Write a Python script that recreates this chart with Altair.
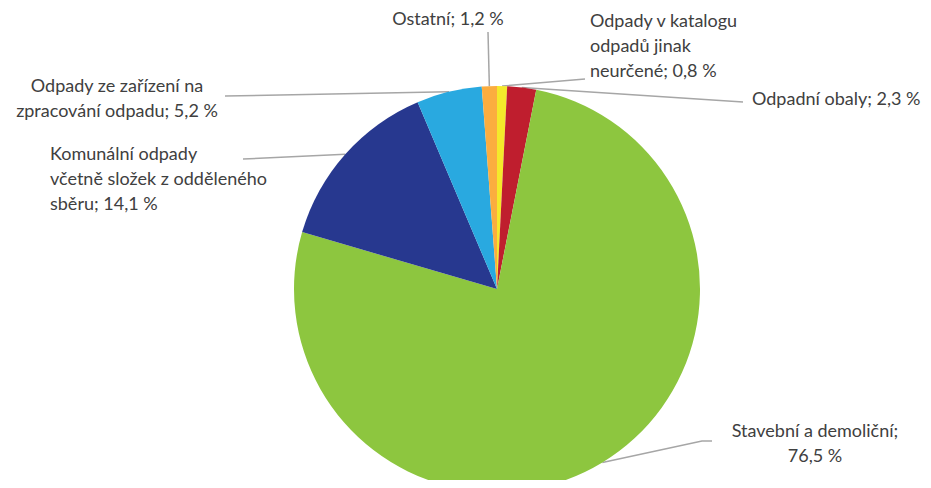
import altair as alt
import pandas as pd
import numpy as np

# ---- data ----
categories = [
    "Odpady v katalogu odpadů jinak neurčené",
    "Odpadní obaly",
    "Stavební a demoliční",
    "Komunální odpady včetně složek z odděleného sběru",
    "Odpady ze zařízení na zpracování odpadu",
    "Ostatní",
]
values = [0.8, 2.3, 76.5, 14.1, 5.2, 1.2]
label_texts = [
    "Odpady v katalogu\nodpadů jinak\nneurčené; 0,8 %",
    "Odpadní obaly; 2,3 %",
    "Stavební a demoliční;\n76,5 %",
    "Komunální odpady\nvčetně složek z odděleného\nsběru; 14,1 %",
    "Odpady ze zařízení na\nzpracování odpadu; 5,2 %",
    "Ostatní; 1,2 %",
]
colors = ["#F4E92B", "#BF1E2E", "#8DC63F", "#27388F", "#29A9E0", "#FBAD3F"]

# ---- layout (chart pixel coordinates) ----
W, H = 915, 472
CX, CY, R = 489, 281, 203
label_x = [582, 744, 807, 42, 109, 440]
label_y = [14, 92, 424, 147, 79, 12]
label_align = ["left", "left", "center", "left", "center", "center"]
# leader line end points (elbow point optional)
leader_pts = [
    [(577, 71)],
    [(735, 94)],
    [(694, 433), (704, 433)],
    [(235, 151)],
    [(217, 88)],
    [(480, 24)],
]

df = pd.DataFrame({"cat": categories, "value": values, "idx": range(len(values))})

# leader lines: start at slice edge at mid angle
total = sum(values)
cum = np.cumsum([0] + values[:-1])
rows = []
for i, (c, v) in enumerate(zip(categories, values)):
    mid = (cum[i] + v / 2) / total * 2 * np.pi
    sx = CX + R * np.sin(mid)
    sy = CY - R * np.cos(mid)
    pts = [(sx, sy)] + leader_pts[i]
    for k, (px, py) in enumerate(pts):
        rows.append({"cat": c, "k": k, "px": px, "py": py})
lines_df = pd.DataFrame(rows)

labels_df = pd.DataFrame({"text": label_texts, "lx": label_x, "ly": label_y, "al": label_align})

xs = alt.Scale(domain=[0, W], nice=False, zero=False)
ys = alt.Scale(domain=[0, H], nice=False, zero=False, reverse=True)

pie = alt.Chart(df).mark_arc(outerRadius=R).encode(
    theta=alt.Theta("value:Q", stack=True),
    color=alt.Color("cat:N", scale=alt.Scale(domain=categories, range=colors), legend=None),
    order=alt.Order("idx:Q"),
    x=alt.value(CX),
    y=alt.value(CY),
)

leaders = alt.Chart(lines_df).mark_line(color="#A6A6A6", strokeWidth=1.5).encode(
    x=alt.X("px:Q", scale=xs, axis=None),
    y=alt.Y("py:Q", scale=ys, axis=None),
    detail="cat:N",
    order="k:Q",
)

text_layers = []
for al in ["left", "center"]:
    sub = labels_df[labels_df["al"] == al]
    text_layers.append(
        alt.Chart(sub).mark_text(
            align=al, baseline="middle", lineBreak="\n", lineHeight=25,
            font="Lato", fontSize=18, color="#404040",
        ).encode(
            x=alt.X("lx:Q", scale=xs, axis=None),
            y=alt.Y("ly:Q", scale=ys, axis=None),
            text="text:N",
        )
    )

chart = alt.layer(leaders, pie, *text_layers).properties(
    width=W, height=H, autosize="none", padding=0
).configure_view(stroke=None)

chart.save("out.html", embed_options={"renderer": "svg", "actions": False})
